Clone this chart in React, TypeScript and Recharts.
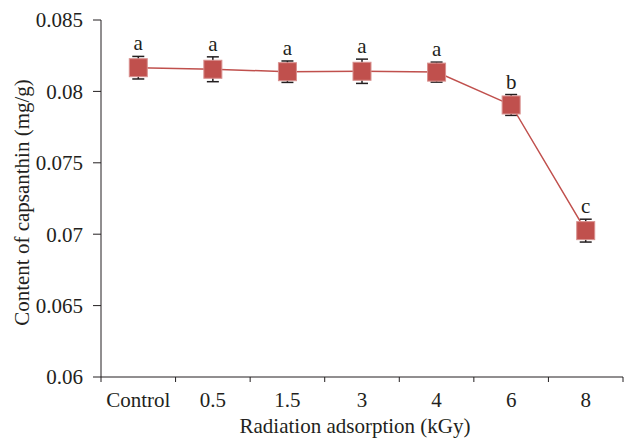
import { LineChart, Line, XAxis, YAxis, ErrorBar, LabelList } from "recharts";

const categories = ["Control", "0.5", "1.5", "3", "4", "6", "8"];
const capsanthin = [0.08166, 0.08155, 0.08138, 0.08141, 0.08135, 0.07905, 0.07025];
const errors = [0.00079, 0.00087, 0.00075, 0.00085, 0.0007, 0.00073, 0.0008];
const letters = ["a", "a", "a", "a", "a", "b", "c"];
const yTicks = [0.06, 0.065, 0.07, 0.075, 0.08, 0.085];
const yTickLabels = ["0.06", "0.065", "0.07", "0.075", "0.08", "0.085"];
const xTicks = [0, 1, 2, 3, 4, 5, 6, 7];

const data = categories.map((name, i) => ({
  name,
  pos: i + 0.5,
  value: capsanthin[i],
  err: errors[i],
  letter: letters[i],
}));

const W = 624;
const H = 444;
const LEFT = 101;
const TOP = 20;
const RIGHT = 1;
const XH = 67;
const PLOT_W = W - LEFT - RIGHT;
const PLOT_H = H - TOP - XH;
const BAND = PLOT_W / categories.length;
const PX_PER_UNIT = PLOT_H / (0.085 - 0.06);

const RED = "#c0504d";
const INK = "#231f20";
const FONT = "'Liberation Serif', 'DejaVu Serif', serif";
const FS = 21;

const XTick = (props: any) => {
  const { x, y, payload } = props;
  const label = categories[payload.value];
  if (label === undefined) return null;
  return (
    <text x={x + BAND / 2} y={y} dy="0.71em" textAnchor="middle" fill={INK} fontSize={FS} fontFamily={FONT}>
      {label}
    </text>
  );
};

const SquareDot = (props: any) => {
  const { cx, cy, index } = props;
  return <rect key={`d-${index}`} x={cx - 9} y={cy - 9} width={18} height={18} fill={RED} stroke="#d8908e" strokeWidth={1} />;
};

const LetterLabel = (props: any) => {
  const { x, y, index, value } = props;
  const top = y - errors[index] * PX_PER_UNIT - 6;
  return (
    <text x={x} y={top} textAnchor="middle" fill={INK} fontSize={FS} fontFamily={FONT}>
      {value}
    </text>
  );
};

const App = () => {
  return (
    <div style={{ position: "absolute", left: 0, top: 0, width: W, height: H, background: "#fff" }}>
      <LineChart width={W} height={H} data={data} margin={{ top: TOP, right: RIGHT, bottom: 0, left: 0 }}>
        <XAxis
          dataKey="pos"
          type="number"
          domain={[0, 7]}
          ticks={xTicks}
          interval={0}
          height={XH}
          tick={<XTick />}
          tickSize={5}
          tickMargin={10}
          stroke={INK}
          label={{ value: "Radiation adsorption (kGy)", position: "insideBottom", offset: 11, dx: -7, fill: INK, fontSize: FS, fontFamily: FONT }}
        />
        <YAxis
          type="number"
          domain={[0.06, 0.085]}
          ticks={yTicks}
          width={LEFT}
          tickSize={8}
          tickMargin={10}
          stroke={INK}
          tickFormatter={(v: number) => yTickLabels[yTicks.indexOf(v)] ?? String(v)}
          tick={{ fill: INK, fontSize: FS, fontFamily: FONT }}
          label={{ value: "Content of capsanthin (mg/g)", angle: -90, position: "insideLeft", offset: 22, dy: 4, style: { textAnchor: "middle" }, fill: INK, fontSize: FS, fontFamily: FONT }}
        />
        <Line
          type="linear"
          dataKey="value"
          stroke={RED}
          strokeWidth={1.5}
          dot={<SquareDot />}
          activeDot={false}
          isAnimationActive={false}
        >
          <ErrorBar dataKey="err" width={6} stroke={INK} strokeWidth={1.5} direction="y" isAnimationActive={false} />
          <LabelList dataKey="letter" content={<LetterLabel />} />
        </Line>
      </LineChart>
    </div>
  );
};

export default App;
